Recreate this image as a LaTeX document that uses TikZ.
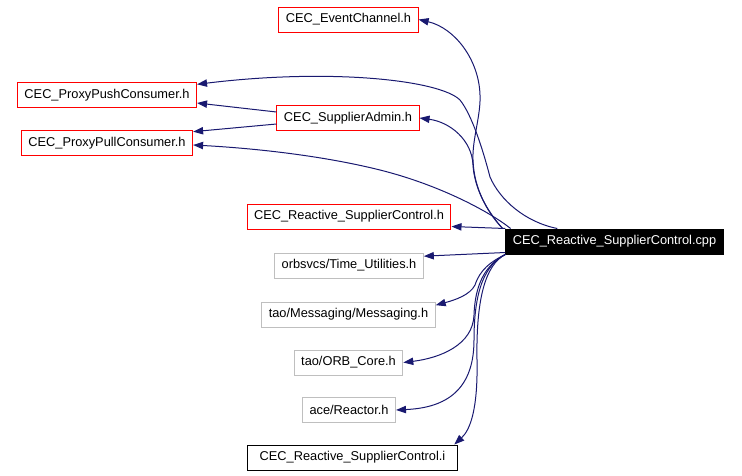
\documentclass[tikz,border=0pt]{standalone}
\usepackage{fontspec}
\setmainfont{Liberation Sans}
\usetikzlibrary{arrows.meta}
\definecolor{edgeblue}{HTML}{191970}
\definecolor{greybox}{HTML}{BFBFBF}

\begin{document}
\begin{tikzpicture}[
	x=0.75pt, y=-0.75pt,
	box/.style = {draw, line width=0.75pt, inner xsep=5.25pt, inner ysep=0pt,
	              minimum height=18.75pt, font=\fontsize{9.6}{11}\selectfont},
	redbox/.style = {box, draw=red},
	greybx/.style = {box, draw=greybox},
	dep/.style = {draw=edgeblue, line width=0.75pt,
	              -{Triangle[length=7.5pt,width=5.5pt]}, edgeblue}
     ]
	\useasboundingbox (0,0) rectangle (742,475);
%
	\node[box, fill=black, text=white] (cpp) at (614.5,241.5) {CEC\_Reactive\_SupplierControl.cpp};
%
	\node[redbox] (evch) at (348.5,19.5) {CEC\_EventChannel.h};
	\node[redbox] (push) at (107,95) {CEC\_ProxyPushConsumer.h};
	\node[redbox] (sadm) at (348,118) {CEC\_SupplierAdmin.h};
	\node[redbox] (pull) at (107,143) {CEC\_ProxyPullConsumer.h};
	\node[redbox] (rsch) at (349,216.5) {CEC\_Reactive\_SupplierControl.h};
	\node[greybx] (time) at (349,265.5) {orbsvcs/Time\_Utilities.h};
	\node[greybx] (msg) at (348.5,314.5) {tao/Messaging/Messaging.h};
	\node[greybx] (orb) at (348.5,362.5) {tao/ORB\_Core.h};
	\node[greybx] (reac) at (349,410) {ace/Reactor.h};
	\node[box, minimum width=158pt] (rsci) at (352.5,457.5) {CEC\_Reactive\_SupplierControl.i};
%
	\draw[dep] ([xshift=-2pt]cpp.north west) .. controls (488,212) and (474,190) .. (473,160)
		.. controls (472,140) and (481,115) .. (480,95)
		.. controls (479,60) and (455,28) .. (evch.east);
	\draw[dep] ([xshift=39pt]cpp.north west) .. controls (525,222) and (500,200) .. (490,177)
		.. controls (483,150) and (472,115) .. (460,100)
		.. controls (440,80) and (330,68) .. ([yshift=8pt]push.east);
	\draw[dep] ([xshift=-2pt]cpp.north west) .. controls (485,210) and (474,185) .. (473,165)
		.. controls (472,140) and (450,122) .. (sadm.east);
	\draw[dep] ([xshift=4pt]cpp.north west) .. controls (490,212) and (440,185) .. (380,170)
		.. controls (320,155) and (250,148) .. ([yshift=-1.5pt]pull.east);
%
	\draw[dep] ([yshift=4.5pt]sadm.west) -- ([yshift=-6pt]push.east);
	\draw[dep] ([yshift=-4.5pt]sadm.west) -- ([yshift=8.5pt]pull.east);
%
	\draw[dep] (cpp.north west) -- ([yshift=-7.5pt]rsch.east);
	\draw[dep] ([yshift=1.5pt]cpp.south west) -- ([yshift=7pt]time.east);
	\draw[dep] (cpp.south west) .. controls (490,262) and (480,270) .. (475,285)
		.. controls (470,295) and (455,300) .. ([yshift=7pt]msg.east);
	\draw[dep] (cpp.south west) .. controls (485,265) and (475,285) .. (474,315)
		.. controls (473,345) and (440,358) .. (orb.east);
	\draw[dep] (cpp.south west) .. controls (485,265) and (474,290) .. (474,340)
		.. controls (474,395) and (440,408) .. (reac.east);
	\draw[dep] (cpp.south west) .. controls (485,265) and (476,300) .. (477,360)
		.. controls (478,410) and (470,430) .. ([xshift=-3pt]rsci.north east);
\end{tikzpicture}
\end{document}
